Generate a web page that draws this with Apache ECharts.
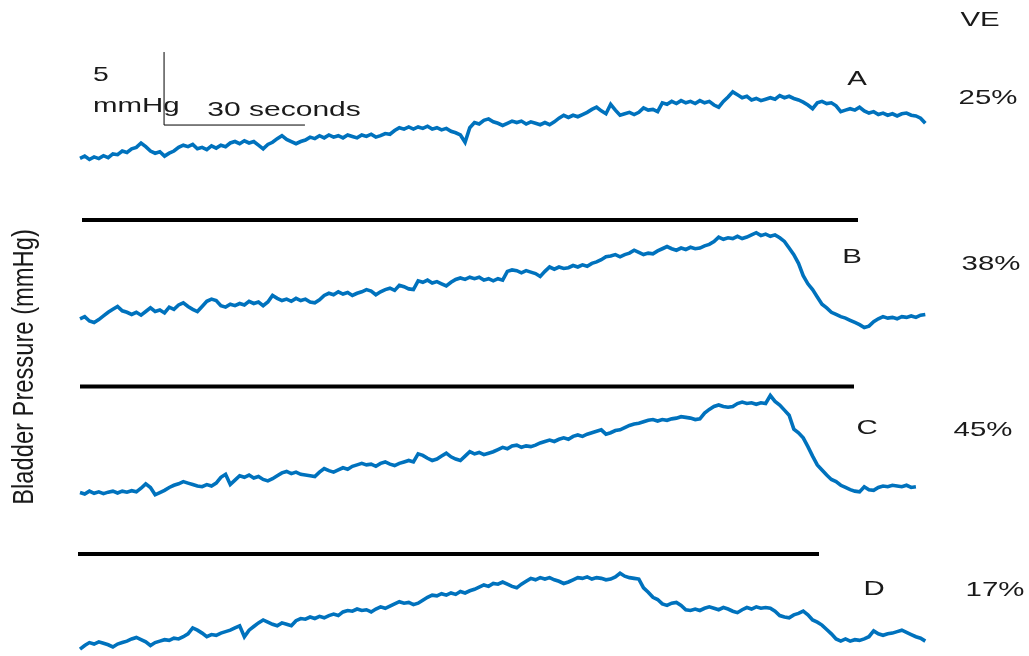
<!DOCTYPE html>
<html>
<head>
<meta charset="utf-8">
<script src="https://cdn.jsdelivr.net/npm/echarts@6/dist/echarts.min.js"></script>
<style>
html,body{margin:0;padding:0;background:#fff;}
#chart{width:1029px;height:656px;}
</style>
</head>
<body>
<div id="chart"></div>
<script>
// Bladder pressure traces, one sample per second (mmHg above each trace's own baseline)
const traceA = [
0.80,0.95,0.72,0.90,0.78,0.98,0.85,1.10,1.05,1.30,
1.20,1.45,1.55,1.85,1.60,1.30,1.15,1.25,0.95,1.15,
1.30,1.55,1.70,1.60,1.75,1.45,1.55,1.40,1.65,1.50,
1.70,1.60,1.85,1.95,1.80,2.00,1.85,1.95,1.70,1.45,
1.75,1.90,2.15,2.35,2.10,1.95,1.80,1.95,2.05,2.25,
2.15,2.35,2.20,2.40,2.25,2.35,2.20,2.40,2.30,2.20,
2.40,2.30,2.45,2.25,2.35,2.50,2.45,2.70,2.90,2.80,
2.95,2.80,2.95,2.85,3.00,2.80,2.90,2.75,2.85,2.65,
2.55,2.40,1.90,2.90,3.25,3.15,3.40,3.50,3.30,3.20,
3.05,3.20,3.35,3.25,3.35,3.15,3.30,3.20,3.10,3.25,
3.10,3.30,3.55,3.75,3.60,3.75,3.65,3.80,3.95,4.15,
4.30,4.05,3.85,4.50,4.10,3.75,3.85,3.95,3.80,3.95,
4.25,4.10,4.15,4.00,4.60,4.50,4.70,4.55,4.75,4.60,
4.70,4.55,4.75,4.60,4.70,4.45,4.30,4.70,5.00,5.35,
5.15,4.95,5.05,4.80,4.90,4.75,4.85,4.95,4.85,5.10,
4.95,5.05,4.90,4.80,4.65,4.45,4.20,4.60,4.70,4.55,
4.60,4.40,4.00,4.10,4.20,4.10,4.30,4.05,3.90,4.00,
3.80,3.90,3.75,3.85,3.70,3.85,3.90,3.75,3.70,3.55,3.20
];
const traceB = [
1.45,1.60,1.30,1.20,1.40,1.65,1.90,2.10,2.30,2.00,
1.90,1.75,1.90,1.70,1.95,2.20,1.95,2.05,1.85,2.25,
2.10,2.40,2.55,2.30,2.10,1.95,2.30,2.65,2.80,2.70,
2.35,2.25,2.45,2.35,2.50,2.40,2.65,2.50,2.60,2.35,
2.60,3.05,2.85,2.70,2.80,2.65,2.85,2.70,2.80,2.60,
2.55,2.75,3.05,3.20,3.10,3.30,3.15,3.25,3.05,3.20,
3.30,3.45,3.35,3.10,3.30,3.45,3.55,3.40,3.75,3.65,
3.50,3.45,4.05,3.95,4.10,3.90,4.00,3.85,3.70,3.95,
4.15,4.25,4.15,4.30,4.20,4.30,4.10,4.20,4.05,4.20,
4.10,4.70,4.80,4.75,4.60,4.75,4.65,4.55,4.35,4.70,
5.00,4.85,5.00,4.90,4.95,5.10,5.00,5.15,5.05,5.25,
5.35,5.50,5.70,5.75,5.85,5.70,5.85,5.95,6.15,6.00,
5.85,5.95,5.90,6.10,6.25,6.40,6.25,6.15,6.30,6.20,
6.35,6.25,6.30,6.45,6.55,6.75,7.05,6.90,7.00,6.95,
7.10,6.95,7.05,7.20,7.35,7.15,7.25,7.10,7.20,7.00,
6.75,6.30,5.85,5.25,4.40,3.85,3.45,2.95,2.45,2.20,
1.90,1.75,1.60,1.50,1.35,1.20,1.05,0.85,0.95,1.25,
1.45,1.60,1.50,1.55,1.45,1.60,1.55,1.65,1.55,1.70,1.75
];
const traceC = [
0.85,0.75,0.95,0.80,0.90,0.78,0.88,0.95,0.82,0.95,
0.88,0.98,0.90,1.15,1.45,1.20,0.70,0.85,1.00,1.20,
1.35,1.45,1.60,1.50,1.40,1.30,1.25,1.40,1.30,1.50,
1.90,2.10,1.40,1.70,2.00,1.90,2.05,1.85,1.95,1.75,
1.65,1.80,2.00,2.20,2.30,2.15,2.25,2.10,2.05,2.00,
1.95,2.25,2.50,2.35,2.25,2.40,2.55,2.45,2.65,2.75,
2.85,2.75,2.80,2.65,2.85,2.95,2.80,2.70,2.85,2.95,
3.05,2.95,3.50,3.40,3.20,3.05,3.15,3.35,3.55,3.30,
3.15,3.05,3.35,3.65,3.50,3.60,3.45,3.55,3.65,3.80,
3.95,3.85,4.05,4.10,3.95,4.05,4.00,4.10,4.25,4.35,
4.45,4.35,4.50,4.60,4.50,4.70,4.80,4.70,4.85,4.95,
5.05,5.15,4.85,4.95,5.10,5.15,5.30,5.45,5.55,5.60,
5.70,5.80,5.85,5.75,5.85,5.80,5.90,5.95,6.05,6.00,
5.95,5.85,5.90,6.30,6.55,6.75,6.85,6.75,6.70,6.75,
6.95,7.05,6.95,7.00,6.90,7.00,6.95,7.50,7.10,6.85,
6.50,6.15,5.20,4.95,4.60,4.00,3.35,2.75,2.40,2.05,
1.75,1.60,1.35,1.20,1.05,0.95,0.90,1.25,1.05,1.00,
1.20,1.30,1.25,1.35,1.30,1.25,1.35,1.20,1.25
];
const traceD = [
0.40,0.65,0.85,0.75,0.90,0.80,0.70,0.55,0.75,0.85,
0.95,1.10,1.20,1.05,0.90,0.65,0.85,0.95,1.05,1.00,
1.15,1.10,1.25,1.45,1.85,1.70,1.50,1.25,1.40,1.35,
1.50,1.60,1.70,1.85,2.00,1.25,1.70,1.95,2.20,2.40,
2.25,2.10,2.00,2.20,2.10,2.00,2.35,2.50,2.45,2.60,
2.50,2.65,2.55,2.70,2.80,2.70,2.95,3.05,3.00,3.15,
3.05,3.10,2.95,3.15,3.30,3.20,3.35,3.50,3.65,3.55,
3.60,3.45,3.55,3.75,3.95,4.10,4.05,4.20,4.10,4.25,
4.15,4.35,4.25,4.40,4.50,4.65,4.80,4.70,4.90,4.85,
5.00,4.85,4.70,4.60,4.85,5.05,5.25,5.15,5.30,5.20,
5.30,5.15,5.05,4.90,5.00,5.15,5.30,5.25,5.35,5.20,
5.30,5.25,5.15,5.20,5.35,5.60,5.40,5.30,5.25,5.20,
4.60,4.30,3.95,3.80,3.50,3.40,3.55,3.60,3.40,3.10,
3.05,3.15,3.05,3.20,3.30,3.20,3.10,3.25,3.15,3.00,
2.90,3.10,3.25,3.15,3.30,3.20,3.25,3.20,3.00,2.70,
2.60,2.55,2.75,2.85,3.00,2.75,2.40,2.25,2.05,1.75,
1.45,1.10,0.95,1.10,0.95,1.05,1.00,1.10,1.25,1.65,
1.45,1.35,1.45,1.50,1.60,1.70,1.55,1.40,1.25,1.15,0.95
];
const traces = [traceA, traceB, traceC, traceD];
const traceLabels = ['A', 'B', 'C', 'D'];
const veLabels = ['25%', '38%', '45%', '17%'];
const veHeader = 'VE';
const yAxisTitle = 'Bladder Pressure (mmHg)';
const scaleBarSeconds = 30;
const scaleBarMmHg = 5;
const sampleSeconds = 1;

// ---- layout (pixels) ----
const gridLeft = 80, gridWidth = 850, xMax = 181;
const gridHeight = 146, yMax = 10;           // 10 mmHg per 146 px
const gridTops = [24, 194, 359, 509];
const blue = '#0072BD';
const textColor = '#1a1a1a';
const fontFam = '"Liberation Sans", Arial, sans-serif';

const chart = echarts.init(document.getElementById('chart'), null, {renderer: 'canvas'});

const grids = gridTops.map(t => ({left: gridLeft, width: gridWidth, top: t, height: gridHeight, containLabel: false}));
const xAxes = gridTops.map((t, i) => ({type: 'value', gridIndex: i, min: 0, max: xMax, show: false}));
const yAxes = gridTops.map((t, i) => ({type: 'value', gridIndex: i, min: 0, max: yMax, show: false}));

const series = traces.map((arr, i) => ({
  type: 'line',
  xAxisIndex: i, yAxisIndex: i,
  data: arr.map((v, k) => [k * sampleSeconds, v]),
  showSymbol: false,
  symbol: 'none',
  lineStyle: {color: blue, width: 3.6, join: 'miter'},
  emphasis: {disabled: true},
  animation: false,
  z: 3
}));

// scale bar drawn in trace A's coordinates
const sbOrigin = [17.9, 3.08];
series.push({
  type: 'line', xAxisIndex: 0, yAxisIndex: 0,
  data: [[sbOrigin[0], sbOrigin[1] + scaleBarMmHg], [sbOrigin[0], sbOrigin[1]], [sbOrigin[0] + scaleBarSeconds, sbOrigin[1]]],
  showSymbol: false, symbol: 'none',
  lineStyle: {color: '#000', width: 1},
  animation: false, silent: true, z: 2
});

function txt(text, x, y, opts) {
  opts = opts || {};
  return {
    type: 'text', x: x, y: y,
    scaleX: opts.sx || 1.4, scaleY: opts.sy || 1,
    rotation: opts.rot || 0,
    style: {
      text: text, fill: textColor,
      font: (opts.size || 21) + 'px ' + fontFam,
      align: opts.align || 'center', verticalAlign: 'middle'
    },
    z: 10
  };
}

const sepLines = [
  [82, 858, 220],
  [80, 854, 386.5],
  [78, 819, 554]
];

const graphics = [];
sepLines.forEach(s => graphics.push({
  type: 'line', shape: {x1: s[0], y1: s[2], x2: s[1], y2: s[2]},
  style: {stroke: '#000', lineWidth: 4}, z: 5
}));

const traceLabelPos = [[857, 79], [852, 257], [867, 428], [874, 589]];
const vePos = [[988, 98], [991, 264], [983, 430], [995, 590]];
traceLabels.forEach((l, i) => graphics.push(txt(l, traceLabelPos[i][0], traceLabelPos[i][1])));
veLabels.forEach((l, i) => graphics.push(txt(l, vePos[i][0], vePos[i][1])));
graphics.push(txt(veHeader, 980, 20));
graphics.push(txt(String(scaleBarMmHg), 93, 75, {align: 'left', sx: 1.35}));
graphics.push(txt('mmHg', 93, 106, {align: 'left', sx: 1.4}));
graphics.push(txt(scaleBarSeconds + ' seconds', 284, 110, {sx: 1.43}));
graphics.push(txt(yAxisTitle, 25, 367, {rot: Math.PI / 2, sx: 1.13, sy: 1.4, size: 21}));

chart.setOption({
  animation: false,
  backgroundColor: '#fff',
  grid: grids,
  xAxis: xAxes,
  yAxis: yAxes,
  series: series,
  graphic: {elements: graphics}
});
</script>
</body>
</html>
